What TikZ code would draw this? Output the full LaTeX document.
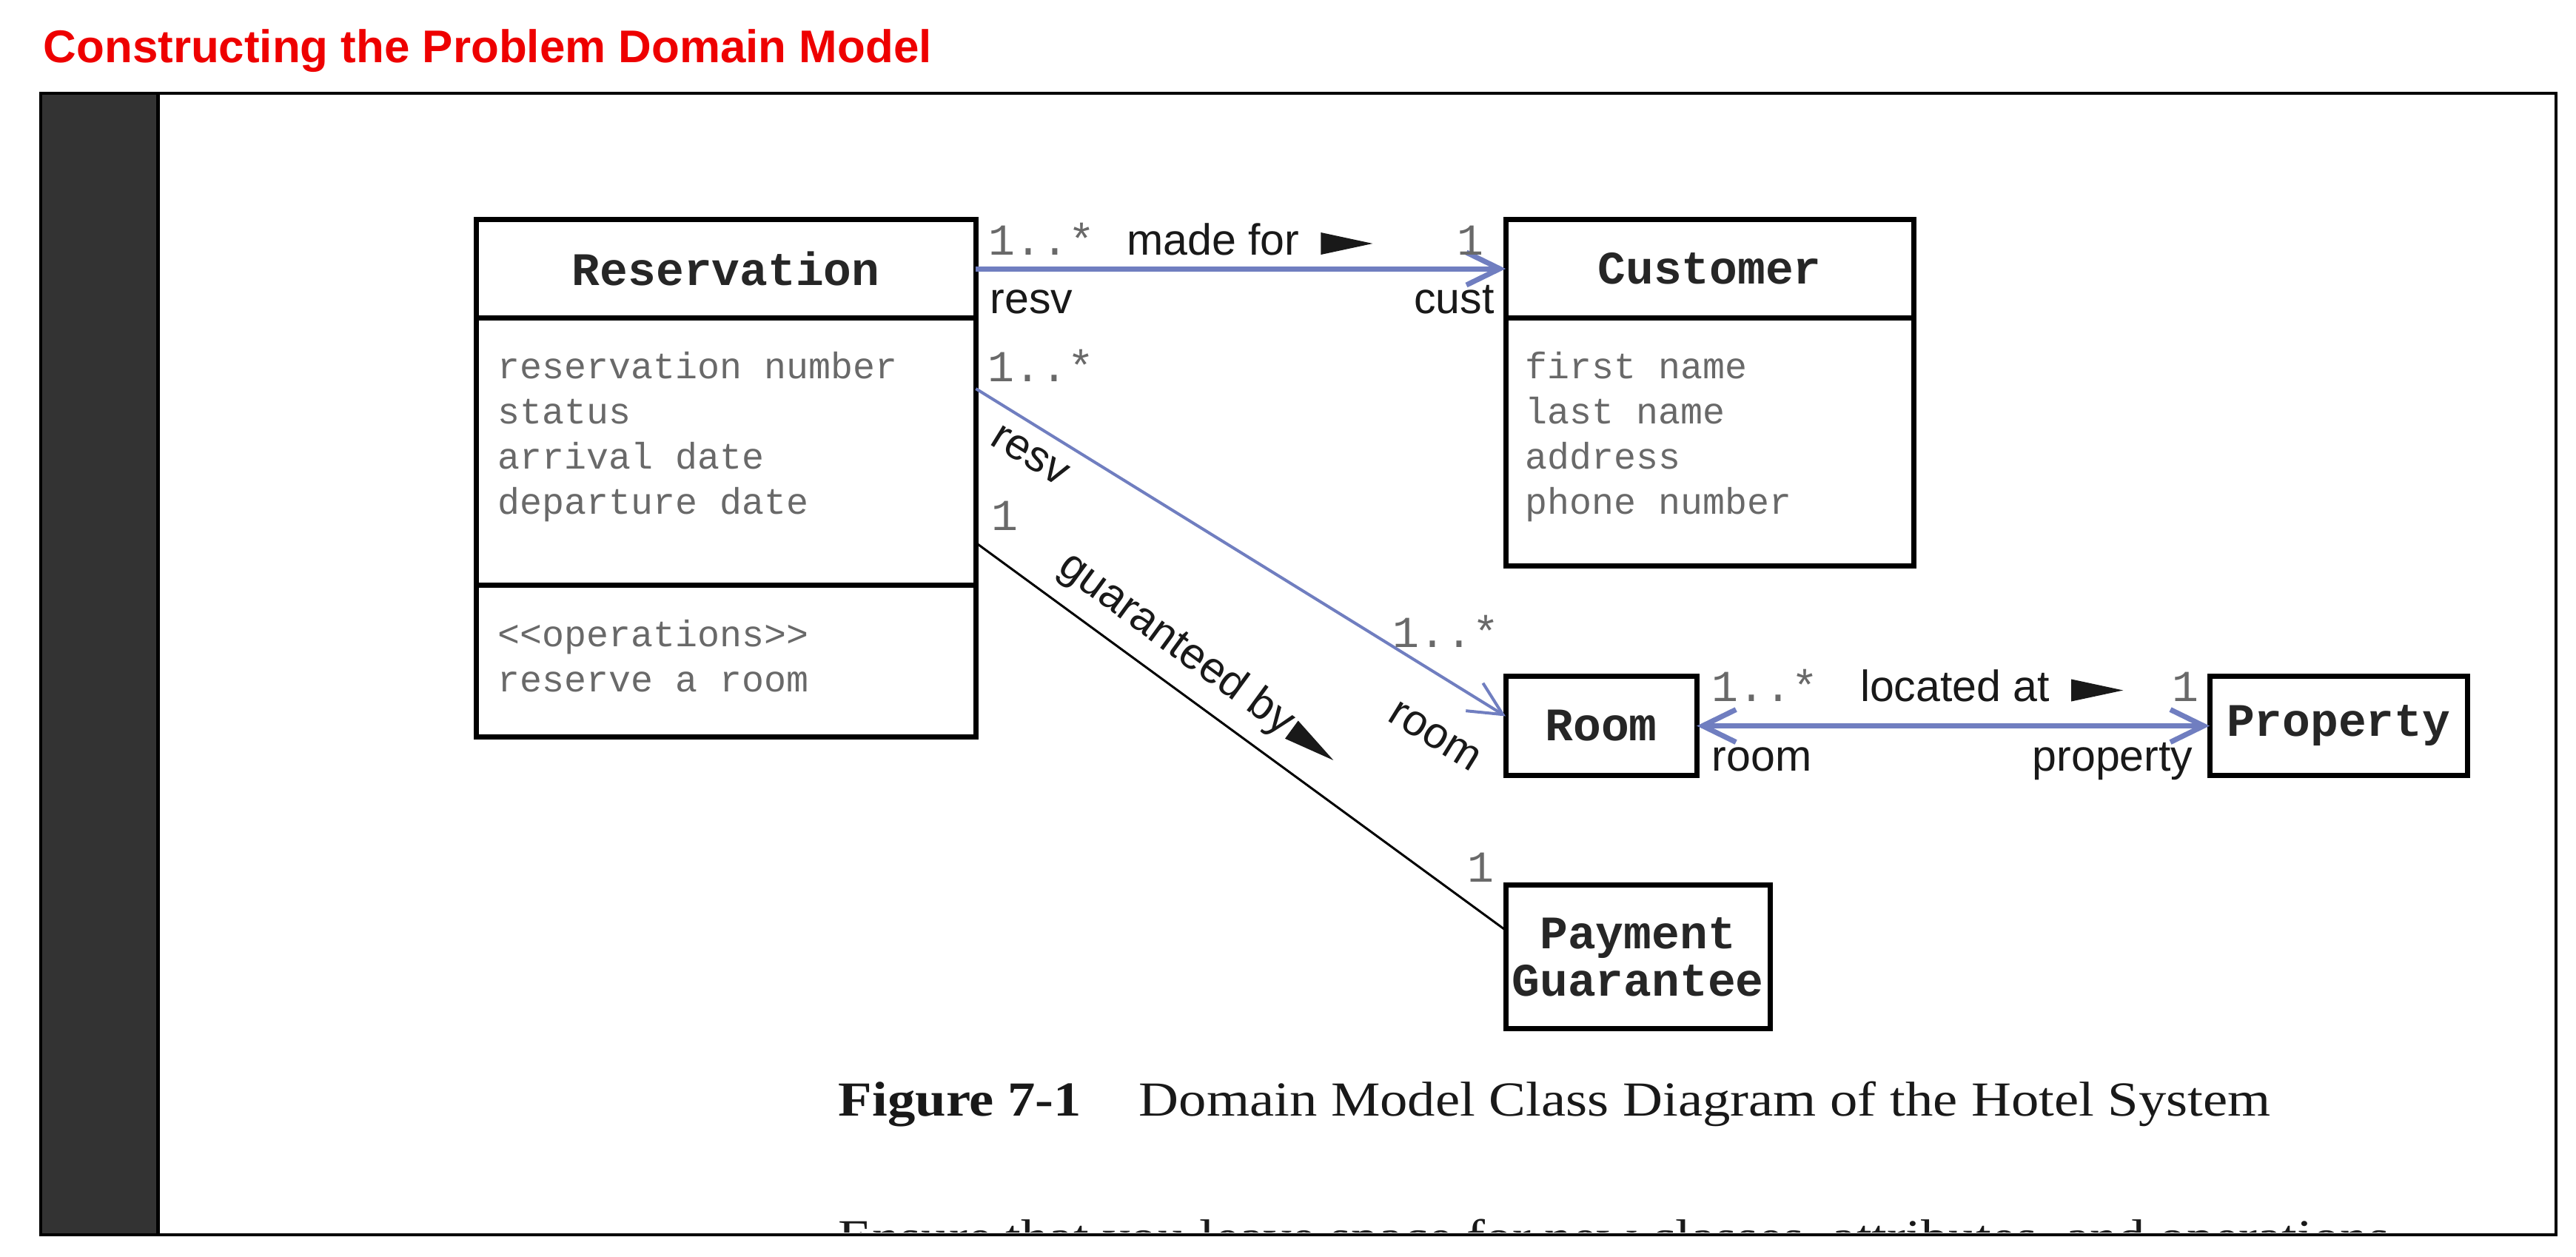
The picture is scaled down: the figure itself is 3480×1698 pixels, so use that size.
\documentclass[tikz,border=0pt]{standalone}
\usepackage{fontspec}
\usetikzlibrary{positioning,arrows.meta}
\newfontfamily\sansf{Liberation Sans}
\newfontfamily\monof[Ligatures=TeXOff]{Liberation Mono}
\newfontfamily\serf[FakeStretch=1.13]{Liberation Serif}
\definecolor{assocblue}{RGB}{112,126,192}
\definecolor{txtgray}{RGB}{105,105,105}
\definecolor{titlered}{RGB}{238,0,0}
\definecolor{sidebar}{RGB}{51,51,51}
\newcommand\dirtri{\tikz[baseline=0pt]\fill[black!90] (0,0) -- (7mm,1.5mm) -- (0,3mm) -- cycle;}

\tikzset{classbox/.style = {draw, line width=0.7mm, inner sep=0pt, outer sep=0pt,
                            minimum width=#1, align=center, text=black!85,
                            font=\monof\bfseries\fontsize{17.9}{18.3}\selectfont},
         classbox/.default=3cm,
         attr/.style = {inner sep=0pt, align=left, text=txtgray,
                        font=\monof\fontsize{14.2}{17.3}\selectfont,
                        execute at begin node=\strut},
         mult/.style = {inner sep=0pt, text=txtgray, font=\monof\fontsize{17}{17}\selectfont},
         role/.style = {inner sep=0pt, text=black!90, font=\sansf\fontsize{16.8}{17}\selectfont},
         assoc/.style = {draw=assocblue, line width=#1},
         assoc/.default=0.7mm,
         >={Straight Barb[length=4.5mm,width=4.4mm]}
        }

\begin{document}
\begin{tikzpicture}[x=0.01cm, y=-0.01cm]
  \path[fill=white, use as bounding box] (0,0) rectangle (3480,1698);
  \fill[sidebar] (55,126) rectangle (213,1668);
  \draw[line width=0.5mm] (213,126) -- (213,1668);
  \draw[line width=0.4mm] (55,126) rectangle (3453,1668);
  \node[anchor=base west, inner sep=0pt, text=titlered,
        font=\sansf\bfseries\fontsize{17.6}{20}\selectfont] (title) at (58,85)
        {Constructing the Problem Domain Model};

  \node[classbox=6.75cm, minimum height=1.32cm, anchor=north west] (resv1) at (643,297) {Reservation};
  \node[classbox=6.75cm, minimum height=3.61cm, below=0pt of resv1] (resv2) {};
  \node[classbox=6.75cm, minimum height=2.05cm, below=0pt of resv2] (resv3) {};
  \node[attr, below right=4.6mm and 2.9mm of resv2.north west] (resvattr)
        {reservation number\\status\\arrival date\\departure date};
  \node[attr, below right=4.6mm and 2.9mm of resv3.north west] (resvops)
        {<<operations>>\\reserve a room};

  \node[classbox=5.51cm, minimum height=1.32cm, anchor=north west] (cust1) at (2034,297) {Customer};
  \node[classbox=5.51cm, minimum height=3.35cm, below=0pt of cust1] (cust2) {};
  \node[attr, below right=4.6mm and 2.6mm of cust2.north west] (custattr)
        {first name\\last name\\address\\phone number};

  \node[classbox=2.58cm, minimum height=1.33cm, anchor=north west] (room) at (2034,914) {Room};
  \node[classbox=3.48cm, minimum height=1.33cm, anchor=north west] (prop) at (2985,914) {Property};
  \node[classbox=3.57cm, minimum height=1.93cm, anchor=north west] (pay) at (2034,1196) {Payment\\Guarantee};

  \draw[assoc, ->] (resv1.east) -- (cust1.west)
    node[mult, pos=0, anchor=base west, xshift=1.4mm, yshift=1.9mm] {1..*}
    node[role, pos=0, anchor=base west, xshift=20.3mm, yshift=1.9mm] {made for\hspace{2.9mm}\dirtri}
    node[mult, pos=1, anchor=base east, xshift=-2.6mm, yshift=1.9mm] {1}
    node[role, pos=0, anchor=base west, xshift=1.6mm, yshift=-6mm] {resv}
    node[role, pos=1, anchor=base east, xshift=-1.2mm, yshift=-6mm] {cust};

  \draw[assoc=0.4mm, ->] ([yshift=-9.6mm]resv2.north east) -- ([yshift=1.3mm]room.west)
    node[mult, pos=0, anchor=base west, xshift=1.4mm, yshift=1mm] {1..*}
    node[role, pos=0.13, sloped, below=2mm] {resv}
    node[mult, pos=1, anchor=base east, xshift=-0.7mm, yshift=9.3mm] {1..*}
    node[role, pos=0.92, sloped, below=5.5mm] {room};

  \draw[line width=0.3mm] ([yshift=-30.4mm]resv2.north east) -- ([yshift=3.6mm]pay.west)
    node[mult, pos=0, anchor=base west, xshift=2mm, yshift=1.7mm] {1}
    node[role, pos=0.38, sloped, above=2mm] {guaranteed by\hspace{0.5mm}\dirtri}
    node[mult, pos=1, anchor=base east, xshift=-1.4mm, yshift=6.5mm] {1};

  \draw[assoc, <->] (room.east) -- (prop.west)
    node[mult, pos=0, anchor=base west, xshift=1.7mm, yshift=3.3mm] {1..*}
    node[role, pos=0, anchor=base west, xshift=22mm, yshift=3.3mm] {located at\hspace{2.9mm}\dirtri}
    node[mult, pos=1, anchor=base east, xshift=-1.1mm, yshift=3.3mm] {1}
    node[role, pos=0, anchor=base west, xshift=1.7mm, yshift=-6.1mm] {room}
    node[role, pos=1, anchor=base east, xshift=-1.9mm, yshift=-6.1mm] {property};

  \node[anchor=base west, inner sep=0pt, text=black!90,
        font=\serf\bfseries\fontsize{18.8}{22}\selectfont] (fignum) at (1132,1508) {Figure 7-1};
  \node[anchor=base west, inner sep=0pt, text=black!90,
        font=\serf\fontsize{18.8}{22}\selectfont] (figtitle) at (1538,1508)
        {Domain Model Class Diagram of the Hotel System};
  \begin{scope}
    \clip (216,128) rectangle (3451,1665);
    \node[anchor=base west, inner sep=0pt, text=black!90,
          font=\serf\fontsize{18.8}{22}\selectfont] (nextpara) at (1132,1694)
          {Ensure that you leave space for new classes, attributes, and operations};
  \end{scope}
\end{tikzpicture}
\end{document}
